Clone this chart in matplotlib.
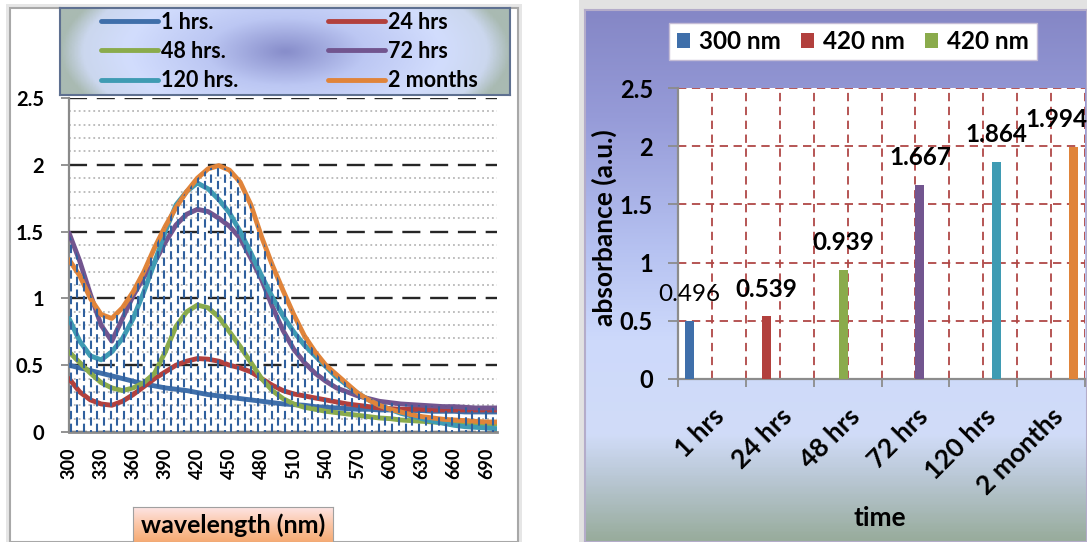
import numpy as np
import matplotlib
matplotlib.use("Agg")
import matplotlib.pyplot as plt
from matplotlib.patches import Rectangle
from matplotlib.colors import LinearSegmentedColormap

plt.rcParams['font.family'] = ['Lato', 'DejaVu Sans']
plt.rcParams['font.weight'] = 'bold'
plt.rcParams['lines.scale_dashes'] = False

# ---- left chart: absorbance spectra ----
wavelength = list(range(300, 701, 10))
hrs1 = [0.50, 0.48, 0.46, 0.44, 0.42, 0.40, 0.38, 0.36, 0.345, 0.33,
        0.32, 0.31, 0.295, 0.28, 0.27, 0.26, 0.25, 0.24, 0.23, 0.22,
        0.21, 0.205, 0.20, 0.19, 0.185, 0.18, 0.175, 0.17, 0.17, 0.165,
        0.165, 0.16, 0.16, 0.16, 0.155, 0.155, 0.155, 0.15, 0.15, 0.15, 0.15]
hrs24 = [0.40, 0.30, 0.24, 0.21, 0.20, 0.23, 0.28, 0.34, 0.40, 0.45,
         0.50, 0.53, 0.55, 0.545, 0.53, 0.50, 0.48, 0.45, 0.40, 0.35,
         0.31, 0.285, 0.27, 0.255, 0.24, 0.225, 0.21, 0.20, 0.19, 0.18,
         0.175, 0.17, 0.17, 0.17, 0.165, 0.165, 0.165, 0.165, 0.165, 0.165, 0.165]
hrs48 = [0.60, 0.52, 0.44, 0.37, 0.33, 0.31, 0.33, 0.37, 0.44, 0.60,
         0.79, 0.90, 0.95, 0.93, 0.86, 0.75, 0.64, 0.52, 0.40, 0.31,
         0.25, 0.21, 0.185, 0.17, 0.155, 0.145, 0.135, 0.125, 0.115, 0.105,
         0.10, 0.09, 0.085, 0.08, 0.075, 0.07, 0.07, 0.065, 0.06, 0.06, 0.06]
hrs72 = [1.49, 1.28, 1.03, 0.80, 0.68, 0.85, 1.02, 1.16, 1.27, 1.42,
         1.55, 1.63, 1.667, 1.65, 1.60, 1.54, 1.45, 1.30, 1.14, 0.94,
         0.76, 0.62, 0.52, 0.44, 0.38, 0.33, 0.30, 0.27, 0.25, 0.23,
         0.22, 0.21, 0.205, 0.20, 0.195, 0.19, 0.19, 0.185, 0.18, 0.18, 0.18]
hrs120 = [0.85, 0.68, 0.57, 0.54, 0.60, 0.70, 0.85, 1.05, 1.27, 1.50,
          1.70, 1.80, 1.864, 1.82, 1.74, 1.64, 1.50, 1.34, 1.17, 1.01,
          0.87, 0.75, 0.65, 0.57, 0.49, 0.41, 0.35, 0.29, 0.24, 0.20,
          0.17, 0.14, 0.12, 0.10, 0.08, 0.065, 0.05, 0.04, 0.035, 0.03, 0.025]
months2 = [1.29, 1.17, 1.00, 0.88, 0.85, 0.93, 1.05, 1.20, 1.38, 1.54,
           1.68, 1.80, 1.90, 1.97, 1.994, 1.96, 1.87, 1.70, 1.46, 1.25,
           1.06, 0.88, 0.72, 0.60, 0.50, 0.43, 0.36, 0.29, 0.24, 0.20,
           0.17, 0.15, 0.13, 0.115, 0.105, 0.095, 0.09, 0.085, 0.08, 0.075, 0.075]
spectra = [hrs1, hrs24, hrs48, hrs72, hrs120, months2]
spectra_names = ['1 hrs.', '24 hrs', '48 hrs.', '72 hrs', '120 hrs.', '2 months']
colors = ['#3f6faa', '#b2403d', '#8aab4c', '#72558f', '#3f9bb3', '#e0843a']

# ---- right chart: absorbance at peak vs time ----
time_labels = ['1 hrs', '24 hrs', '48 hrs', '72 hrs', '120 hrs', '2 months']
peak_values = [0.496, 0.539, 0.939, 1.667, 1.864, 1.994]
bar_names = ['300 nm', '420 nm', '420 nm']

W, H = 1087, 542


def box(x0, y0, x1, y1):
    # pixel box (origin top-left) -> figure rect
    return [x0 / W, 1 - y1 / H, (x1 - x0) / W, (y1 - y0) / H]


fig = plt.figure(figsize=(W / 100, H / 100), dpi=100)

# soft grey shadows behind the two panels
fig.add_artist(Rectangle((6 / W, 0), 516 / W, 538 / H, transform=fig.transFigure,
                         fc='#e6e6e6', ec='none', zorder=-3))
fig.add_artist(Rectangle((579 / W, 0), 508 / W, 1, transform=fig.transFigure,
                         fc='#e2e2e2', ec='none', zorder=-3))
# left panel frame
fig.add_artist(Rectangle((10 / W, 0), 508 / W, 534 / H, transform=fig.transFigure,
                         fc='white', ec='#a8a8a8', lw=1.5, zorder=-2))

ax1 = fig.add_axes(box(69, 98, 497, 432))
for vals, col, name in zip(spectra, colors, spectra_names):
    ax1.plot(wavelength, vals, color=col, lw=3.5, solid_joinstyle='round',
             solid_capstyle='round', zorder=3, label=name)

# dashed vertical "hatch" under the envelope of all curves
env = np.max(np.array(spectra), axis=0)
poly = ax1.fill_between(wavelength, 0, env, facecolor='none', edgecolor='none')
cols = np.arange(301.5, 700, 6.26)
styles = [(0, (6, 3.2)) if i % 2 == 0 else (4.6, (6, 3.2)) for i in range(len(cols))]
hatch = ax1.vlines(cols, 0, 2.5, colors='#30609e', lw=1.5, linestyles=styles, zorder=4)
hatch.set_clip_path(poly.get_paths()[0], ax1.transData)

ax1.set_xlim(300, 700)
ax1.set_ylim(0, 2.5)
ax1.set_xticks(range(300, 691, 30))
ax1.set_xticklabels([str(v) for v in range(300, 691, 30)], rotation=90,
                    fontsize=13, fontweight='bold')
ax1.set_yticks([0, 0.5, 1, 1.5, 2, 2.5])
ax1.set_yticklabels(['0', '0.5', '1', '1.5', '2', '2.5'], fontsize=14.5, fontweight='bold')
ax1.set_yticks(np.arange(0, 2.51, 0.1), minor=True)
ax1.tick_params(axis='x', length=0, pad=11)
ax1.tick_params(axis='y', which='major', length=6, color='#8a8a8a', width=1.3, pad=12)
ax1.tick_params(axis='y', which='minor', length=0)
ax1.grid(which='minor', axis='y', color='#b8b8b8', ls=(0, (1.3, 2.2)), lw=1.3)
ax1.grid(which='major', axis='y', color='#262626', ls=(0, (13, 7)), lw=1.7)
ax1.set_axisbelow(True)
for s in ['top', 'right']:
    ax1.spines[s].set_visible(False)
ax1.spines['left'].set_color('#8a8a8a')
ax1.spines['left'].set_linewidth(1.6)
ax1.spines['bottom'].set_color('#8a8a8a')
ax1.spines['bottom'].set_linewidth(2)

ax1.set_xlabel('wavelength (nm)', fontsize=18, fontweight='bold')
ax1.xaxis.set_label_coords((233 - 69) / 428, (432 - 525) / 334)
ax1.xaxis.label.set_va('center')

# orange gradient box behind the x label
axwl = fig.add_axes(box(133, 507, 333, 542))
axwl.set_zorder(-1)
wl_cmap = LinearSegmentedColormap.from_list('wl', ['#fde4e4', '#fbc6a6', '#f6ab74'])
axwl.imshow(np.linspace(0, 1, 50)[:, None], cmap=wl_cmap, aspect='auto', extent=[0, 1, 0, 1])
axwl.set_xticks([])
axwl.set_yticks([])
for s in axwl.spines.values():
    s.set_color('#a0a0a0')

# legend box with radial gradient
axleg = fig.add_axes(box(60, 8, 510, 95))
u, v = np.meshgrid(np.linspace(-1, 1, 300), np.linspace(-1, 1, 80))
r = np.clip(np.sqrt(u ** 2 + (0.45 * v) ** 2), 0, 1)
leg_cmap = LinearSegmentedColormap.from_list(
    'leg', [(0, '#888ecb'), (0.35, '#bcc7f3'), (0.7, '#d2ddfd'), (0.9, '#cbd7ee'), (1, '#a9bab2')])
axleg.imshow(r, cmap=leg_cmap, aspect='auto', extent=[0, 1, 0, 1])
axleg.set_xticks([])
axleg.set_yticks([])
for s in axleg.spines.values():
    s.set_color('#5e7090')
    s.set_linewidth(1.5)
h, l = ax1.get_legend_handles_labels()
order = [0, 2, 4, 1, 3, 5]
axleg.legend([h[i] for i in order], [l[i] for i in order], ncol=2, loc='center',
             bbox_to_anchor=(0.51, 0.5), frameon=False,
             handlelength=2.65, handletextpad=0.12, columnspacing=4.2,
             labelspacing=0.38, prop={'weight': 'bold', 'size': 15.5})

# ---- right panel ----
axbg = fig.add_axes(box(585, 10, 1087, 542))
axbg.set_zorder(-1)
bg_cmap = LinearSegmentedColormap.from_list(
    'bg', [(0, '#8587c6'), (0.2, '#969bd8'), (0.45, '#b6c2f1'), (0.62, '#cdd9fb'),
           (0.8, '#d1dcf8'), (0.88, '#bac8d6'), (1, '#98ac9c')])
axbg.imshow(np.linspace(0, 1, 200)[:, None], cmap=bg_cmap, aspect='auto', extent=[0, 1, 0, 1])
axbg.set_xticks([])
axbg.set_yticks([])
for s in axbg.spines.values():
    s.set_color('#b4acca')
    s.set_linewidth(1.5)

ax2 = fig.add_axes(box(678, 88, 1085, 379))
ax2.set_facecolor('white')
n = len(time_labels)
w = 0.132
bars = []
for j in range(n):
    vals = [peak_values[i] if i == j else 0 for i in range(n)]
    xs = [i + 0.5 + (j - 2.5) * w for i in range(n)]
    bars.append(ax2.bar(xs, vals, width=w, color=colors[j], zorder=3))

for i, v in enumerate(peak_values):
    xc = i + 0.5 + (i - 2.5) * w
    dx = -12.5 if i == n - 1 else 0
    ax2.annotate(f'{v:.3f}', (xc, v), xytext=(dx, 19.5), textcoords='offset points',
                 ha='center', va='center', fontsize=17.5,
                 fontweight='normal' if i == 0 else 'bold', zorder=5)

ax2.set_xlim(0, n)
ax2.set_ylim(0, 2.5)
ax2.set_xticks(range(n + 1))
ax2.set_xticklabels([])
ax2.set_xticks([i + 0.5 for i in range(n)], minor=True)
ax2.set_xticklabels(time_labels, minor=True, rotation=45, ha='right',
                    rotation_mode='anchor', fontsize=19, fontweight='bold')
ax2.tick_params(axis='x', which='major', length=6, color='#8c8c8c', width=1.3)
ax2.tick_params(axis='x', which='minor', length=0, pad=18)
ax2.set_yticks([0, 0.5, 1, 1.5, 2, 2.5])
ax2.set_yticklabels(['0', '0.5', '1', '1.5', '2', '2.5'], fontsize=17, fontweight='bold')
ax2.tick_params(axis='y', length=7, color='#8c8c8c', width=1.3, pad=11)
ax2.grid(which='both', axis='x', color='#b04846', ls=(0, (6, 4)), lw=1.3)
ax2.grid(which='major', axis='y', color='#b04846', ls=(0, (6, 4)), lw=1.3)
ax2.set_axisbelow(True)
for s in ['top', 'right']:
    ax2.spines[s].set_visible(False)
for s in ['left', 'bottom']:
    ax2.spines[s].set_color('#8c8c8c')
    ax2.spines[s].set_linewidth(1.6)

ax2.set_ylabel('absorbance (a.u.)', fontsize=19, fontweight='bold')
ax2.yaxis.set_label_coords((604 - 678) / 407, (379 - 228) / 291)
ax2.yaxis.label.set_va('center')
ax2.set_xlabel('time', fontsize=19, fontweight='bold')
ax2.xaxis.set_label_coords((880 - 678) / 407, (379 - 518) / 291)
ax2.xaxis.label.set_va('center')

fig.legend([b for b in bars[:3]], bar_names, loc='center', ncol=3,
           bbox_to_anchor=(853 / W, 1 - 41.5 / H), fancybox=False, framealpha=1,
           facecolor='white', edgecolor='#c4bcd6', prop={'weight': 'bold', 'size': 17.5},
           handlelength=0.55, handleheight=0.55, handletextpad=0.37, columnspacing=0.82,
           borderpad=0.3)

fig.savefig('out.png', dpi=100)
